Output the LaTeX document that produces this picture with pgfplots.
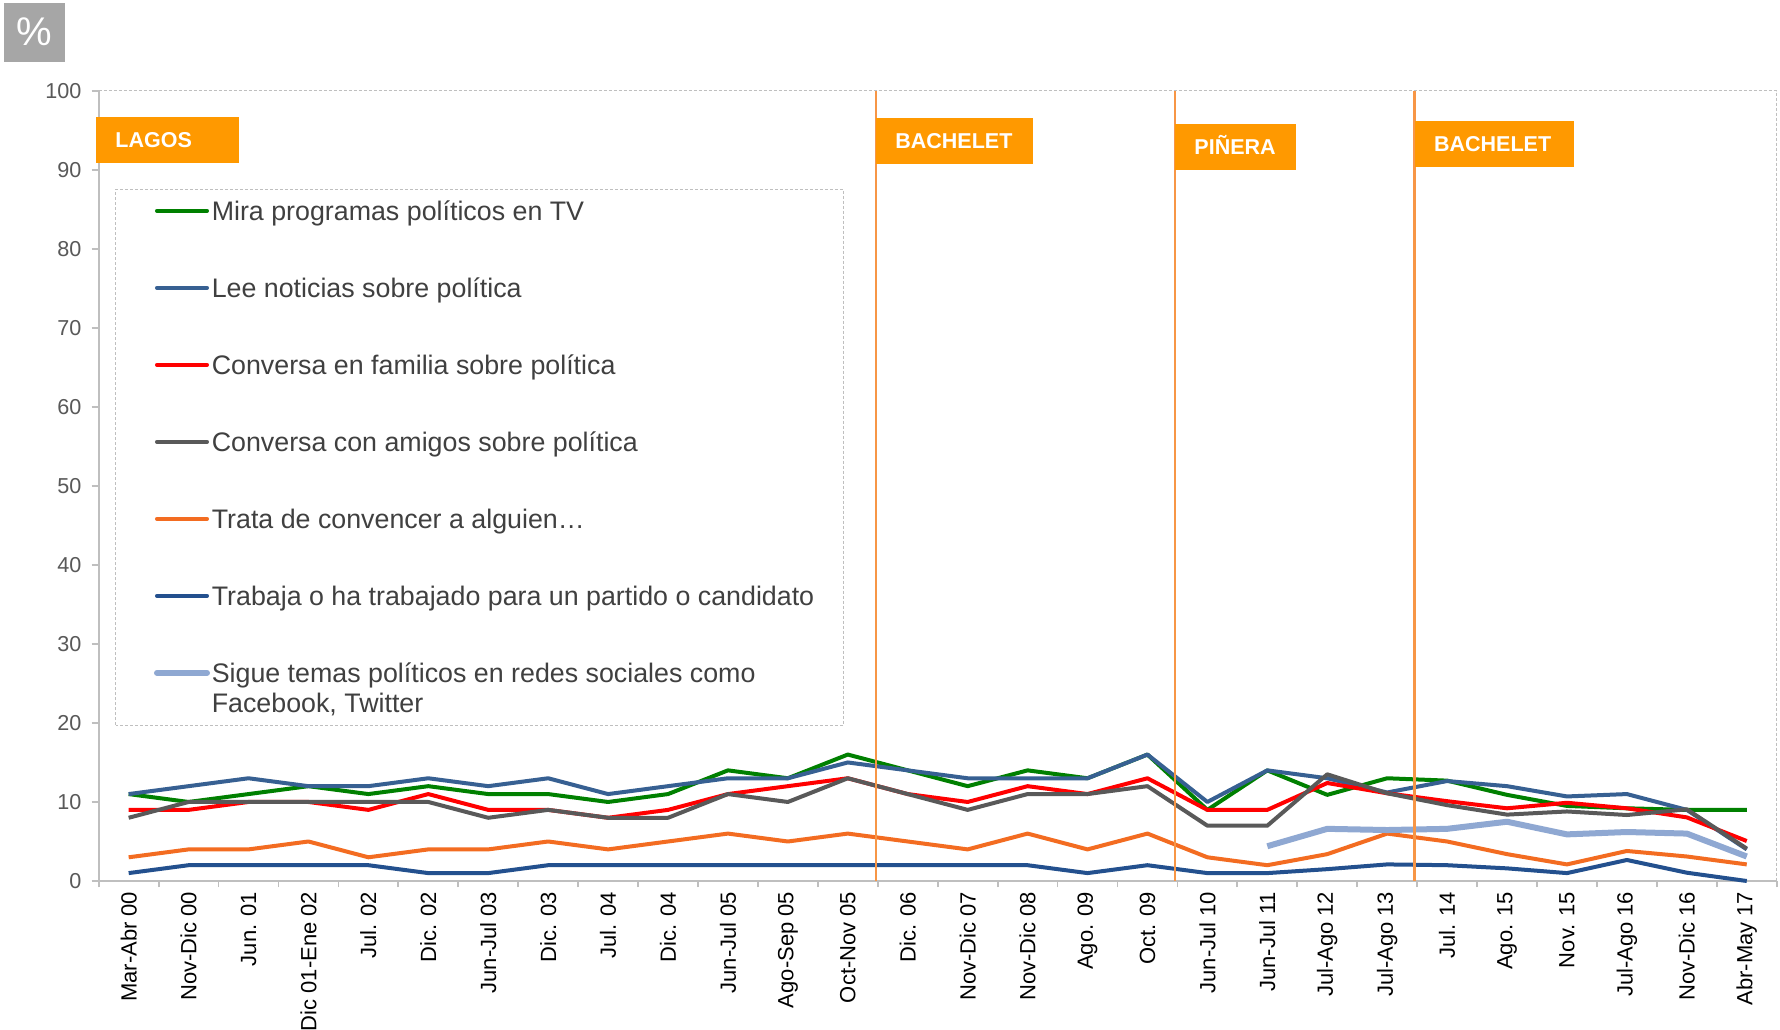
\documentclass[border=0pt]{standalone}
\usepackage{pgfplots}
\usepackage{pgfplotstable}
\pgfplotsset{compat=1.18}
\usepackage{fontspec}
\setmainfont{Liberation Sans}

\definecolor{cTV}{HTML}{008000}
\definecolor{cLee}{HTML}{376092}
\definecolor{cFam}{HTML}{FF0000}
\definecolor{cAmi}{HTML}{595959}
\definecolor{cConv}{HTML}{F36C21}
\definecolor{cTrab}{HTML}{23508E}
\definecolor{cRedes}{HTML}{8FA8D2}
\definecolor{vline}{HTML}{F79646}
\definecolor{boxorange}{HTML}{FF9900}
\definecolor{pctgray}{HTML}{A6A6A6}
\definecolor{axisgray}{HTML}{BFBFBF}
\definecolor{ticktext}{HTML}{595959}
\definecolor{legtext}{HTML}{404040}

% k  tv  lee  fam  ami  conv  trab  redes
\pgfplotstableread{
k  tv    lee   fam   ami   conv  trab  redes
0  11    11    9     8     3     1     nan
1  10    12    9     10    4     2     nan
2  11    13    10    10    4     2     nan
3  12    12    10    10    5     2     nan
4  11    12    9     10    3     2     nan
5  12    13    11    10    4     1     nan
6  11    12    9     8     4     1     nan
7  11    13    9     9     5     2     nan
8  10    11    8     8     4     2     nan
9  11    12    9     8     5     2     nan
10 14    13    11    11    6     2     nan
11 13    13    12    10    5     2     nan
12 16    15    13    13    6     2     nan
13 14    14    11    11    5     2     nan
14 12    13    10    9     4     2     nan
15 14    13    12    11    6     2     nan
16 13    13    11    11    4     1     nan
17 16    16    13    12    6     2     nan
18 9     10    9     7     3     1     nan
19 14    14    9     7     2     1     4.4
20 10.9  13    12.4  13.5  3.4   1.5   6.6
21 13    11.2  11.1  11.1  6     2.1   6.45
22 12.7  12.65 10.1  9.6   5     2     6.6
23 10.9  12    9.2   8.4   3.4   1.6   7.5
24 9.5   10.7  9.9   8.8   2.1   1.0   5.9
25 9.2   11    9.2   8.35  3.8   2.66  6.2
26 9     9     8.05  9.07  3.1   1.05  6.0
27 9     4     5.06  4.1   2.1   0     3.1
}\datatable

\newcommand\govbox[6]{%
  \fill[boxorange] (axis cs:#1,#3) rectangle (axis cs:#2,#4);
  \node[anchor=west, inner sep=0pt, text height=7.7pt, text depth=0pt, text=white,
        font=\bfseries\fontsize{10.75}{12}\selectfont, xshift=9.5pt] at (axis cs:#1,#5) {#6};}

\begin{document}
\begin{tikzpicture}
\useasboundingbox (0,0) rectangle (890pt,514.5pt);
\fill[white] (0,0) rectangle (890pt,514.5pt);
\begin{axis}[
  at={(49.35pt,74pt)}, anchor=south west,
  scale only axis, width=839pt, height=395.15pt,
  xmin=-0.5, xmax=27.5, ymin=0, ymax=100,
  axis x line*=bottom, axis y line*=left,
  axis line style={draw=axisgray, line width=0.9pt},
  tick align=outside,
  ytick={0,10,...,100},
  major tick length=3.5pt,
  major y tick style={draw=axisgray, line width=0.9pt},
  xtick={0,...,27},
  major x tick style={draw=none},
  minor xtick={-0.5,0.5,...,27.5},
  minor x tick style={draw=axisgray, line width=0.9pt},
  minor tick length=3pt,
  xticklabels={Mar-Abr 00,Nov-Dic 00,Jun. 01,Dic 01-Ene 02,Jul. 02,Dic. 02,Jun-Jul 03,Dic. 03,Jul. 04,Dic. 04,Jun-Jul 05,Ago-Sep 05,Oct-Nov 05,Dic. 06,Nov-Dic 07,Nov-Dic 08,Ago. 09,Oct. 09,Jun-Jul 10,Jun-Jul 11,Jul-Ago 12,Jul-Ago 13,Jul. 14,Ago. 15,Nov. 15,Jul-Ago 16,Nov-Dic 16,Abr-May 17},
  xticklabel style={rotate=90, anchor=east, inner sep=1.7pt, text=black, font=\fontsize{11}{13}\selectfont},
  yticklabel style={anchor=east, inner sep=0pt, xshift=-4.9pt, text=ticktext, font=\fontsize{10.8}{12}\selectfont},
  /pgf/number format/assume math mode=true,
  clip=false,
  legend cell align=left,
  legend style={at={(axis cs:0.4227,86.0)}, anchor=north west, draw=none, fill=none,
    inner sep=0pt, outer sep=0pt, row sep=29.0pt,
    font=\fontsize{13.4}{15.3}\selectfont, text=legtext,
    nodes={inner sep=0pt, text height=9.5pt, text depth=0pt, anchor=base west},
    /tikz/every odd column/.style={column sep=0.9pt}},
  legend image code/.code={\draw[#1, line cap=round] (0.5pt,4.75pt) -- (25.5pt,4.75pt);},
  every axis plot/.append style={line width=2pt, line join=round, no markers},
]
\addplot[cTV] table[x=k, y=tv] {\datatable};
\addlegendentry{Mira programas políticos en TV}
\addplot[cLee] table[x=k, y=lee] {\datatable};
\addlegendentry{Lee noticias sobre política}
\addplot[cFam] table[x=k, y=fam] {\datatable};
\addlegendentry{Conversa en familia sobre política}
\addplot[cAmi] table[x=k, y=ami] {\datatable};
\addlegendentry{Conversa con amigos sobre política}
\addplot[cConv] table[x=k, y=conv] {\datatable};
\addlegendentry{Trata de convencer a alguien…}
\addplot[cTrab] table[x=k, y=trab] {\datatable};
\addlegendentry{Trabaja o ha trabajado para un partido o candidato}
\addplot[cRedes, line width=3pt] table[x=k, y=redes] {\datatable};
\addlegendentry{\parbox[t]{320pt}{Sigue temas políticos en redes sociales como\\Facebook, Twitter}}

% plot area border (top and right, dashed)
\draw[axisgray, line width=0.6pt, dash pattern=on 1.5pt off 1pt]
  (rel axis cs:0,1) -- (rel axis cs:1,1) -- (rel axis cs:1,0);

% government change lines
\draw[vline, line width=1.35pt] (axis cs:12.47,0) -- (axis cs:12.47,100);
\draw[vline, line width=1.35pt] (axis cs:17.46,0) -- (axis cs:17.46,100);
\draw[vline, line width=1.35pt] (axis cs:21.46,0) -- (axis cs:21.46,100);

\govbox{-0.545}{1.841}{90.9}{96.7}{93.8}{LAGOS}
\govbox{12.47}{15.09}{90.76}{96.6}{93.65}{BACHELET}
\govbox{17.46}{19.48}{90.0}{95.8}{92.9}{PIÑERA}
\govbox{21.46}{24.11}{90.4}{96.2}{93.3}{BACHELET}
\end{axis}

% legend frame
\draw[axisgray, line width=0.5pt, dash pattern=on 1.5pt off 1pt]
  (57.85pt,152pt) rectangle (421.75pt,419.85pt);

% percent badge
\fill[pctgray] (2pt,483.5pt) rectangle (32.5pt,513pt);
\node[text=white, inner sep=0pt, font=\fontsize{20}{20}\selectfont] at (17.25pt,498.5pt) {\%};
\end{tikzpicture}
\end{document}
